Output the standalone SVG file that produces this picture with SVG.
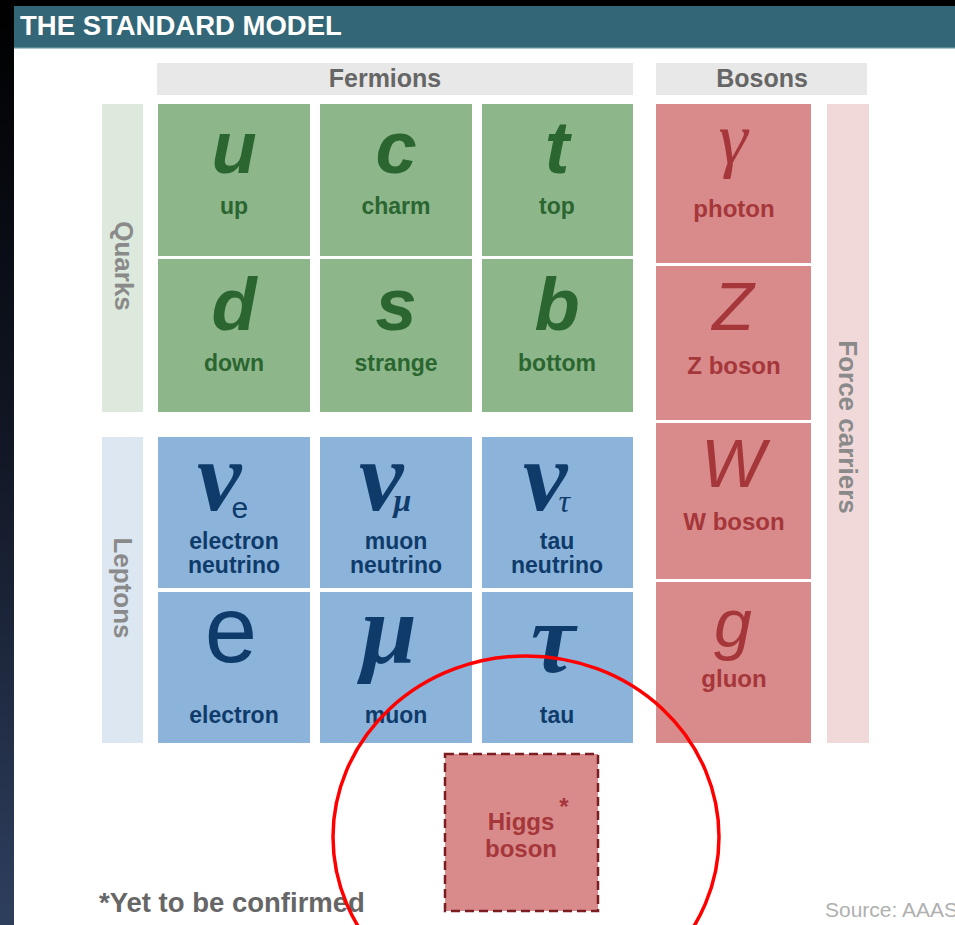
<svg xmlns="http://www.w3.org/2000/svg" width="955" height="925" viewBox="0 0 955 925">
<defs>
<linearGradient id="edge" x1="0" y1="0" x2="0" y2="1">
<stop offset="0" stop-color="#000000"/>
<stop offset="0.5" stop-color="#121826"/>
<stop offset="1" stop-color="#2e3f5e"/>
</linearGradient>
</defs>
<style>
.sans{font-family:"Liberation Sans",Arial,sans-serif}
.serif{font-family:"Liberation Serif","Times New Roman",serif}
.hdr{fill:#e8e8e8}
.hdrt{font-family:"Liberation Sans",Arial,sans-serif;font-weight:bold;font-size:25px;fill:#666;text-anchor:middle}
.side{font-family:"Liberation Sans",Arial,sans-serif;font-weight:bold;font-size:26px;fill:#8a8a8a;text-anchor:middle}
.q{fill:#8db68b}
.l{fill:#8cb3da}
.b{fill:#d98a8a}
.qs{font-family:"Liberation Sans",Arial,sans-serif;font-weight:bold;font-style:italic;font-size:74px;fill:#2b6630;text-anchor:middle}
.ql{font-family:"Liberation Sans",Arial,sans-serif;font-weight:bold;font-size:23px;fill:#2b6630;text-anchor:middle}
.ll{font-family:"Liberation Sans",Arial,sans-serif;font-weight:bold;font-size:23px;fill:#0f3b6b;text-anchor:middle}
.nu{font-family:"Liberation Serif","Times New Roman",serif;font-weight:bold;font-style:italic;font-size:100px;fill:#0f3b6b}
.bs{font-family:"Liberation Sans",Arial,sans-serif;font-style:italic;font-size:68px;fill:#a5363a;text-anchor:middle}
.bl{font-family:"Liberation Sans",Arial,sans-serif;font-weight:bold;font-size:24px;fill:#a5363a;text-anchor:middle}
</style>
<!-- background -->
<rect x="0" y="0" width="955" height="925" fill="#ffffff"/>
<rect x="0" y="0" width="14" height="925" fill="url(#edge)"/>
<rect x="0" y="0" width="955" height="6" fill="#000000"/>
<rect x="14" y="6" width="941" height="42" fill="#336677"/>
<rect x="14" y="47" width="941" height="1.5" fill="#5a8896"/>
<text x="20" y="35" class="sans" font-weight="bold" font-size="27.5" fill="#ffffff">THE STANDARD MODEL</text>

<!-- category headers -->
<g id="fermions-header"><rect class="hdr" x="157" y="63" width="476" height="32"/><text class="hdrt" x="385" y="87">Fermions</text></g>
<g id="bosons-header"><rect class="hdr" x="656" y="63" width="211" height="32"/><text class="hdrt" x="762" y="87">Bosons</text></g>

<g id="quarks-bar"><rect x="102" y="104" width="41" height="308" fill="#dde9dc"/><text class="side" transform="translate(115,266) rotate(90)">Quarks</text></g>
<g id="leptons-bar"><rect x="102" y="437" width="41" height="306" fill="#dde7f2"/><text class="side" transform="translate(114,588) rotate(90)">Leptons</text></g>
<g id="force-bar"><rect x="827" y="104" width="42" height="639" fill="#f1d9da"/><text class="side" transform="translate(839,427) rotate(90)">Force carriers</text></g>

<!-- quarks -->
<g id="up"><rect class="q" x="158" y="104" width="152" height="152"/><text class="qs" x="234" y="173">u</text><text class="ql" x="234" y="214">up</text></g>
<g id="charm"><rect class="q" x="320" y="104" width="152" height="152"/><text class="qs" x="396" y="173">c</text><text class="ql" x="396" y="214">charm</text></g>
<g id="top"><rect class="q" x="482" y="104" width="151" height="152"/><text class="qs" x="557" y="173">t</text><text class="ql" x="557" y="214">top</text></g>
<g id="down"><rect class="q" x="158" y="259" width="152" height="153"/><text class="qs" x="234" y="330">d</text><text class="ql" x="234" y="371">down</text></g>
<g id="strange"><rect class="q" x="320" y="259" width="152" height="153"/><text class="qs" x="396" y="330">s</text><text class="ql" x="396" y="371">strange</text></g>
<g id="bottom"><rect class="q" x="482" y="259" width="151" height="153"/><text class="qs" x="557" y="330">b</text><text class="ql" x="557" y="371">bottom</text></g>

<!-- leptons -->
<g id="electron-neutrino"><rect class="l" x="158" y="437" width="152" height="151"/><text class="nu" x="197" y="510">ν<tspan class="sans" font-style="normal" font-weight="normal" font-size="30" dx="-10" dy="8">e</tspan></text><text class="ll" x="234" y="549">electron</text><text class="ll" x="234" y="573">neutrino</text></g>
<g id="muon-neutrino"><rect class="l" x="320" y="437" width="152" height="151"/><text class="nu" x="359" y="510">ν<tspan font-size="32" dx="-10" dy="1">μ</tspan></text><text class="ll" x="396" y="549">muon</text><text class="ll" x="396" y="573">neutrino</text></g>
<g id="tau-neutrino"><rect class="l" x="482" y="437" width="151" height="151"/><text class="nu" x="523" y="510">ν<tspan font-size="32" font-weight="normal" dx="-9" dy="2">τ</tspan></text><text class="ll" x="557" y="549">tau</text><text class="ll" x="557" y="573">neutrino</text></g>
<g id="electron"><rect class="l" x="158" y="592" width="152" height="151"/><text class="sans" x="231" y="662" font-size="94" fill="#0f3b6b" text-anchor="middle">e</text><text class="ll" x="234" y="723">electron</text></g>
<g id="muon"><rect class="l" x="320" y="592" width="152" height="151"/><text class="nu" x="389" y="663" font-size="110" text-anchor="middle">μ</text><text class="ll" x="396" y="723">muon</text></g>
<g id="tau"><rect class="l" x="482" y="592" width="151" height="151"/><text class="nu" x="553" y="672" font-size="108" text-anchor="middle">τ</text><text class="ll" x="557" y="723">tau</text></g>

<!-- bosons -->
<g id="photon"><rect class="b" x="656" y="104" width="155" height="159"/><text class="serif" x="733" y="163" font-size="74" font-style="italic" fill="#a5363a" text-anchor="middle">γ</text><text class="bl" x="734" y="217">photon</text></g>
<g id="z-boson"><rect class="b" x="656" y="266" width="155" height="154"/><text class="bs" x="733" y="330">Z</text><text class="bl" x="734" y="374">Z boson</text></g>
<g id="w-boson"><rect class="b" x="656" y="423" width="155" height="156"/><text class="bs" x="733" y="487">W</text><text class="bl" x="734" y="530">W boson</text></g>
<g id="gluon"><rect class="b" x="656" y="582" width="155" height="161"/><text class="bs" x="733" y="647">g</text><text class="bl" x="734" y="687">gluon</text></g>

<!-- Higgs -->
<g id="higgs"><rect x="445" y="754" width="153" height="157" fill="#d98a8a" stroke="#7a1e22" stroke-width="2.5" stroke-dasharray="9,5"/><text class="bl" x="521" y="830" font-size="26">Higgs</text><text class="bl" x="521" y="857" font-size="26">boson</text><text class="bl" x="564" y="815" font-size="22">*</text></g>

<text class="sans" x="99" y="912" font-weight="bold" font-size="27.5" fill="#666666">*Yet to be confirmed</text>
<text class="sans" x="825" y="917" font-size="21" fill="#b0b0b0">Source: AAAS</text>

<!-- annotation -->
<ellipse cx="526" cy="837" rx="193" ry="181" fill="none" stroke="#ff0000" stroke-width="3.5"/>
</svg>
